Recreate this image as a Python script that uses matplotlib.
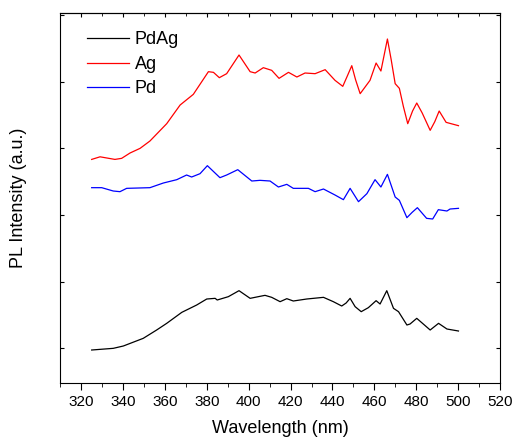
import numpy as np
import matplotlib
matplotlib.use('Agg')
import matplotlib.pyplot as plt
from matplotlib.ticker import MultipleLocator

plt.rcParams['font.family'] = ['Liberation Sans', 'DejaVu Sans']

# spectra (arbitrary units, curves already offset)
wl_pdag = [325.1, 335.4, 340.2, 349.7, 356.1, 360.9, 368.1, 375.2, 380.0, 384.0,
           385.0, 390.3, 395.4, 400.7, 404.6, 407.8, 411.0, 415.0, 418.2, 421.3,
           427.7, 435.7, 440.4, 444.4, 446.5, 448.4, 450.8, 453.7, 457.1, 460.8,
           462.7, 465.9, 469.1, 471.5, 473.5, 475.5, 477.0, 480.2, 483.5, 486.6,
           490.6, 494.6, 500.1]
pl_pdag = [0.495, 0.52, 0.555, 0.67, 0.795, 0.895, 1.06, 1.17, 1.26, 1.27,
           1.245, 1.295, 1.385, 1.27, 1.295, 1.315, 1.285, 1.22, 1.265, 1.23,
           1.26, 1.285, 1.22, 1.155, 1.2, 1.27, 1.145, 1.07, 1.13, 1.235,
           1.185, 1.385, 1.12, 1.07, 0.97, 0.87, 0.885, 0.97, 0.88, 0.795,
           0.895, 0.81, 0.78]

wl_ag = [325.1, 329.1, 336.2, 339.4, 343.4, 348.2, 352.9, 360.9, 367.3, 373.6,
         380.8, 383.2, 386.0, 389.5, 395.4, 400.7, 403.1, 407.0, 411.0, 414.5,
         419.0, 423.0, 426.9, 431.7, 436.5, 441.2, 444.9, 447.0, 449.2, 451.0,
         453.2, 457.9, 460.8, 463.1, 466.2, 468.0, 469.9, 471.9, 473.8, 475.9,
         478.2, 480.2, 482.8, 486.6, 488.8, 490.9, 494.2, 500.1]
pl_ag = [3.354, 3.393, 3.354, 3.37, 3.45, 3.52, 3.63, 3.89, 4.17, 4.33,
         4.67, 4.66, 4.58, 4.64, 4.92, 4.67, 4.65, 4.73, 4.69, 4.57,
         4.66, 4.59, 4.65, 4.64, 4.70, 4.54, 4.45, 4.6, 4.76, 4.55,
         4.34, 4.54, 4.80, 4.68, 5.16, 4.85, 4.49, 4.42, 4.15, 3.89,
         4.08, 4.20, 4.05, 3.79, 3.92, 4.08, 3.91, 3.86]

wl_pd = [325.1, 329.9, 335.4, 338.6, 341.8, 352.9, 359.3, 365.7, 370.4, 372.8,
         376.8, 380.3, 386.3, 389.5, 394.8, 401.5, 405.4, 410.2, 414.2, 418.2,
         421.3, 428.5, 431.7, 435.7, 441.2, 445.2, 448.4, 452.4, 456.4, 460.3,
         463.1, 466.2, 469.9, 471.9, 475.5, 478.0, 480.5, 484.9, 487.8, 490.5,
         494.6, 496.1, 500.1]
pl_pd = [2.93, 2.93, 2.88, 2.87, 2.92, 2.93, 3.00, 3.05, 3.12, 3.09,
         3.14, 3.26, 3.08, 3.12, 3.20, 3.03, 3.04, 3.03, 2.94, 2.98,
         2.92, 2.92, 2.87, 2.91, 2.82, 2.75, 2.92, 2.72, 2.84, 3.05,
         2.94, 3.13, 2.79, 2.74, 2.48, 2.56, 2.63, 2.47, 2.46, 2.60,
         2.58, 2.61, 2.62]

fig = plt.figure(figsize=(5.13, 4.41), dpi=100)
ax = fig.add_axes([0.117, 0.1315, 0.858, 0.839])

ax.plot(wl_pdag, pl_pdag, color='black', lw=0.9, label='PdAg')
ax.plot(wl_ag, pl_ag, color='#ff0000', lw=0.9, label='Ag')
ax.plot(wl_pd, pl_pd, color='#0000ff', lw=0.9, label='Pd')

ax.set_xlim(310, 520)
ax.set_ylim(0, 5.55)
ax.xaxis.set_major_locator(MultipleLocator(20))
ax.xaxis.set_minor_locator(MultipleLocator(10))
ax.set_yticks(np.arange(0.52, 5.6, 1.0))
ax.set_yticklabels([])
ax.tick_params(axis='x', which='major', direction='out', length=5, labelsize=11)
ax.tick_params(axis='x', which='minor', direction='out', length=3)
ax.tick_params(axis='y', direction='in', length=3, right=True)

# inward ticks on the top spine
top = ax.secondary_xaxis('top')
top.xaxis.set_major_locator(MultipleLocator(20))
top.xaxis.set_minor_locator(MultipleLocator(10))
top.tick_params(which='major', direction='in', length=3, labeltop=False)
top.tick_params(which='minor', direction='in', length=2)

ax.set_xlabel('Wavelength (nm)', fontsize=13, labelpad=8)
ax.set_ylabel('PL Intensity (a.u.)', fontsize=13, labelpad=20)

ax.legend(loc='upper left', frameon=False, fontsize=13, handlelength=2.35,
          handletextpad=0.3, labelspacing=0.42, borderaxespad=0.0,
          bbox_to_anchor=(0.045, 0.97))

fig.savefig('out.png', dpi=100)
